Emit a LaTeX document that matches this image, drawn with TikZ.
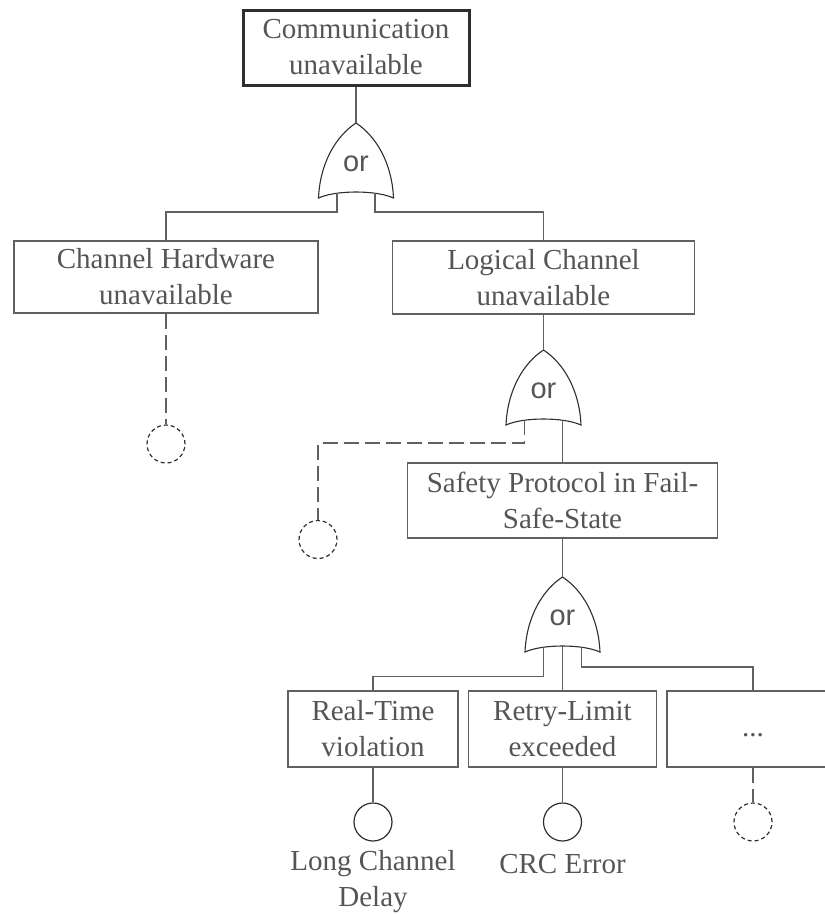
\documentclass[tikz,border=0pt]{standalone}
\usepackage{fontspec}
\setmainfont{Liberation Serif}
\newfontfamily\gatefont{Liberation Sans}
\definecolor{linegrey}{HTML}{606060}
\definecolor{textgrey}{HTML}{555555}
\definecolor{inkdark}{HTML}{2E2E2E}
\begin{document}
\begin{tikzpicture}[x=1pt,y=-1pt,
  event/.style={draw=linegrey, line width=1.3pt, fill=white, rectangle,
    inner sep=0pt, align=center, text=textgrey,
    font=\fontsize{29}{36}\selectfont},
  topevent/.style={event, draw=inkdark, line width=3pt},
  basic/.style={draw=inkdark, line width=1.2pt, circle, inner sep=0pt,
    minimum size=38pt},
  undeveloped/.style={basic, dash pattern=on 4pt off 3pt},
  lbl/.style={align=center, text=textgrey, inner sep=0pt,
    font=\fontsize{29}{36}\selectfont},
  conn/.style={draw=linegrey, line width=1.4pt},
  dconn/.style={conn, dash pattern=on 15pt off 6pt},
  gateline/.style={draw=inkdark, line width=1.1pt, fill=white},
  gatelabel/.style={text=textgrey, inner sep=0pt,
    font=\gatefont\fontsize{29}{34}\selectfont},
  orgate/.pic={
    \draw[gateline] (-37.5,0) .. controls (-36,-35) and (-20,-62) .. (0,-75)
      .. controls (20,-62) and (36,-35) .. (37.5,0)
      .. controls (20,-8) and (-20,-8) .. cycle;
    \node[gatelabel] (-lbl) at (0,-34) {or};
    \coordinate (-apex) at (0,-75);
    \coordinate (-l) at (-19,-5);
    \coordinate (-m) at (0,-6);
    \coordinate (-r) at (19,-5);
  }]
\useasboundingbox (0,0) rectangle (825,914);
\clip (0,0) rectangle (825,914);

% events
\node[topevent, minimum width=226pt, minimum height=75pt] (top) at (356,47.5) {Communication\\unavailable};
\node[event, minimum width=304pt, minimum height=72pt] (hw) at (166,277) {Channel Hardware\\unavailable};
\node[event, minimum width=302pt, minimum height=73pt] (lc) at (543.5,277.5) {Logical Channel\\unavailable};
\node[event, minimum width=310pt, minimum height=75pt] (sp) at (562.5,500.5) {Safety Protocol in Fail-\\Safe-State};
\node[event, minimum width=170pt, minimum height=76pt] (rt) at (373,729) {Real-Time\\violation};
\node[event, minimum width=188pt, minimum height=76pt] (rl) at (562.5,729) {Retry-Limit\\exceeded};
\node[event, minimum width=172pt, minimum height=76pt] (dd) at (753,729) {\strut...};

% basic and undeveloped events
\node[undeveloped] (c1) at (166,444) {};
\node[undeveloped] (c2) at (318,539.5) {};
\node[basic] (c3) at (373,822) {};
\node[basic] (c4) at (562.5,822) {};
\node[undeveloped] (c5) at (753,822) {};
\node[lbl] (l3) at (373,882) {Long Channel\\Delay};
\node[lbl] (l4) at (562.5,864) {CRC Error};

% gates
\pic (g1) at (356,198) {orgate};
\pic (g2) at (543.5,425) {orgate};
\pic (g3) at (562.5,652) {orgate};

% bend levels
\coordinate (bus1) at (0,212);
\coordinate (bus2) at (0,443);
\coordinate (bus3l) at (0,676.5);
\coordinate (bus3r) at (0,667);

% connectors
\draw[conn] (top.south) -- (g1-apex);
\draw[conn] (g1-l) -- (g1-l |- bus1) -| (hw.north);
\draw[conn] (g1-r) -- (g1-r |- bus1) -| (lc.north);
\draw[conn] (lc.south) -- (g2-apex);
\draw[dconn] (g2-l) -- (g2-l |- bus2) -| (c2.north);
\draw[conn] (g2-r) -- (sp.north);
\draw[conn] (sp.south) -- (g3-apex);
\draw[conn] (g3-l) -- (g3-l |- bus3l) -| (rt.north);
\draw[conn] (g3-m) -- (rl.north);
\draw[conn] (g3-r) -- (g3-r |- bus3r) -| (dd.north);
\draw[dconn] (hw.south) -- (c1.north);
\draw[conn] (rt.south) -- (c3.north);
\draw[conn] (rl.south) -- (c4.north);
\draw[dconn] (dd.south) -- (c5.north);
\end{tikzpicture}
\end{document}
